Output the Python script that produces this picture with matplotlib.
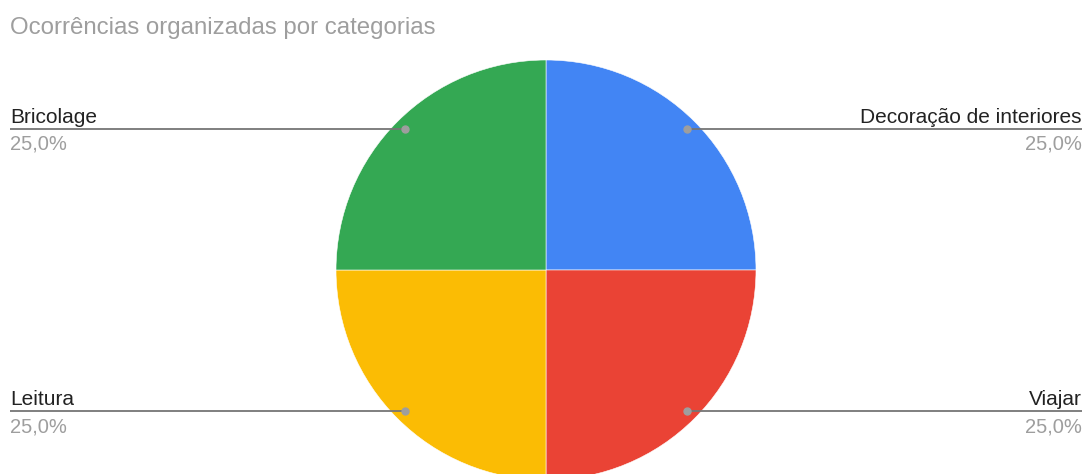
import numpy as np
import matplotlib.pyplot as plt

plt.rcParams['font.family'] = ['Liberation Sans', 'DejaVu Sans']

# categorias e contagens
categorias = ["Decoração de interiores", "Viajar", "Leitura", "Bricolage"]
ocorrencias = [1, 1, 1, 1]
cores = ["#4285F4", "#EA4335", "#FBBC04", "#34A853"]

W, H = 1085, 474
fig = plt.figure(figsize=(W / 100, H / 100), dpi=100)
ax = fig.add_axes([0, 0, 1, 1])

cx, cy, r = 546, H - 270, 210
wedges, _ = ax.pie(ocorrencias, colors=cores, startangle=90, counterclock=False,
                   center=(cx, cy), radius=r, frame=True,
                   wedgeprops=dict(edgecolor='white', linewidth=0.4))
ax.set_xlim(0, W)
ax.set_ylim(0, H)
ax.set_aspect('equal')
ax.axis('off')

total = sum(ocorrencias)
for w, nome, val in zip(wedges, categorias, ocorrencias):
    ang = np.deg2rad((w.theta1 + w.theta2) / 2)
    px = cx + 0.95 * r * np.cos(ang)
    py = cy + 0.95 * r * np.sin(ang)
    pct = f"{100 * val / total:.1f}%".replace(".", ",")
    if np.cos(ang) < 0:
        x_end, ha = 10, 'left'
    else:
        x_end, ha = 1082, 'right'
    ax.plot([x_end, px], [py, py], color='#757575', lw=1.3, zorder=3, solid_capstyle='butt')
    ax.plot(px, py, 'o', ms=5, color='#9e9e9e', zorder=4)
    ax.text(x_end, py + 6, nome, ha=ha, va='baseline', fontsize=15, color='#222222')
    ax.text(x_end, py - 6, pct, ha=ha, va='top', fontsize=14.5, color='#9e9e9e')

fig.text(10 / W, 1 - 34 / H, "Ocorrências organizadas por categorias",
         ha='left', va='baseline', fontsize=17.3, color='#9e9e9e')

fig.savefig("out.png", dpi=100)
